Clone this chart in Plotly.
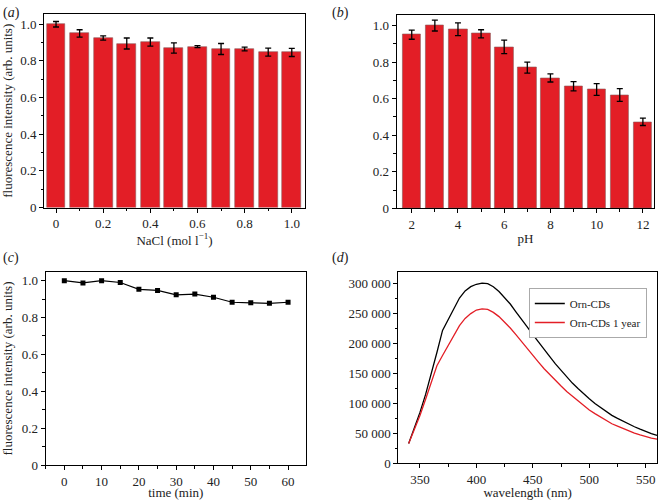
import plotly.graph_objects as go

# ---------------- data ----------------
nacl_conc = [0, 0.1, 0.2, 0.3, 0.4, 0.5, 0.6, 0.7, 0.8, 0.9, 1.0]
nacl_intensity = [1.0, 0.95, 0.925, 0.895, 0.903, 0.87, 0.878, 0.865, 0.865, 0.848, 0.846]
nacl_error = [0.015, 0.02, 0.012, 0.03, 0.022, 0.028, 0.005, 0.03, 0.01, 0.022, 0.022]

ph_values = [2, 3, 4, 5, 6, 7, 8, 9, 10, 11, 12]
ph_intensity = [0.95, 1.0, 0.98, 0.955, 0.883, 0.77, 0.713, 0.668, 0.65, 0.62, 0.473]
ph_error = [0.025, 0.03, 0.035, 0.022, 0.037, 0.03, 0.022, 0.025, 0.032, 0.035, 0.02]

time_min = [0, 5, 10, 15, 20, 25, 30, 35, 40, 45, 50, 55, 60]
time_intensity = [1.0, 0.988, 1.0, 0.99, 0.953, 0.947, 0.923, 0.927, 0.91, 0.883, 0.88, 0.877, 0.883]

wavelength = [340, 345, 350, 355, 360, 365, 370, 375, 380, 385, 390, 395, 400, 405, 410,
              415, 420, 425, 430, 435, 440, 445, 450, 455, 460, 465, 470, 475, 480, 485,
              490, 495, 500, 505, 510, 515, 520, 525, 530, 535, 540, 545, 550, 555, 560]
orn_cds = [33000, 58000, 85000, 115000, 148000, 185000, 222000, 240000, 260000, 276000,
           288000, 295000, 299000, 301000, 300000, 295000, 287000, 277000, 266000, 253000,
           241000, 228000, 215000, 202000, 190000, 178000, 166000, 155000, 144000, 134000,
           125000, 116000, 108000, 100000, 93000, 86000, 80000, 75000, 70000, 65000,
           61000, 57000, 53000, 49500, 46500]
orn_cds_1year = [33000, 55000, 80000, 107000, 135000, 163000, 180000, 197000, 215000, 230000,
                 242000, 250000, 256000, 258000, 257000, 252000, 245000, 236000, 226000, 215000,
                 203000, 192000, 180000, 169000, 158000, 148000, 138000, 129000, 120000, 112000,
                 104000, 96000, 89000, 83000, 77000, 71000, 66000, 62000, 58000, 54000,
                 50500, 47500, 44500, 42000, 40500]

frac_ticks = [0, 0.2, 0.4, 0.6, 0.8, 1.0]
frac_ticklabels = ["0", "0.2", "0.4", "0.6", "0.8", "1.0"]
ph_ticks = [2, 4, 6, 8, 10, 12]
time_ticks = [0, 10, 20, 30, 40, 50, 60]
wl_ticks = [350, 400, 450, 500, 550]
fl_ticks = [0, 50000, 100000, 150000, 200000, 250000, 300000]
fl_ticklabels = ["0", "50 000", "100 000", "150 000", "200 000", "250 000", "300 000"]

# ---------------- figure ----------------
FONT = "Liberation Serif"
BAR = "#e31e26"

fig = go.Figure()

fig.add_trace(go.Bar(
    x=nacl_conc, y=nacl_intensity, width=0.08,
    marker=dict(color=BAR, line=dict(color="#8a5a5a", width=0.6)),
    error_y=dict(type="data", array=nacl_error, color="black", thickness=1.3, width=3),
    xaxis="x", yaxis="y", showlegend=False))

fig.add_trace(go.Bar(
    x=ph_values, y=ph_intensity, width=0.8,
    marker=dict(color=BAR, line=dict(color="#8a5a5a", width=0.6)),
    error_y=dict(type="data", array=ph_error, color="black", thickness=1.3, width=3),
    xaxis="x2", yaxis="y2", showlegend=False))

fig.add_trace(go.Scatter(
    x=time_min, y=time_intensity, mode="lines+markers",
    line=dict(color="black", width=1.2),
    marker=dict(symbol="square", size=5, color="black"),
    xaxis="x3", yaxis="y3", showlegend=False))

fig.add_trace(go.Scatter(
    x=wavelength, y=orn_cds, mode="lines", name="Orn-CDs",
    line=dict(color="black", width=1.3),
    xaxis="x4", yaxis="y4"))
fig.add_trace(go.Scatter(
    x=wavelength, y=orn_cds_1year, mode="lines", name="Orn-CDs 1 year",
    line=dict(color="#e31e26", width=1.3),
    xaxis="x4", yaxis="y4"))

common = dict(showline=True, linecolor="black", linewidth=1, mirror=True,
              ticks="outside", ticklen=4, tickwidth=1, tickcolor="black",
              showgrid=False, zeroline=False, automargin=False,
              tickfont=dict(family=FONT, size=13, color="#222"),
              title_font=dict(family=FONT, size=13, color="#222"))

minor_common = dict(ticks="outside", ticklen=2.5, tickcolor="black", showgrid=False)

ylab = "fluorescence intensity (arb. units)"

fig.update_layout(
    template="none",
    width=658, height=500,
    margin=dict(l=0, r=0, t=0, b=0),
    paper_bgcolor="white", plot_bgcolor="white",
    font=dict(family=FONT, size=13, color="#222"),
    bargap=0,
    xaxis=dict(domain=[0.0669, 0.4635], anchor="y", range=[-0.051, 1.056],
               tickvals=frac_ticks, ticktext=frac_ticklabels,
               minor=dict(dtick=0.1, tick0=0, **minor_common),
               title=dict(text="NaCl (mol l<sup>−1</sup>)", standoff=2), **common),
    yaxis=dict(domain=[0.585, 0.972], anchor="x", range=[0, 1.056],
               tickvals=frac_ticks, ticktext=frac_ticklabels,
               minor=dict(dtick=0.1, tick0=0, **minor_common),
               title=dict(text=ylab, standoff=6), **common),
    xaxis2=dict(domain=[0.6029, 0.9939], anchor="y2", range=[1.35, 12.48],
                tickvals=ph_ticks,
                minor=dict(dtick=1, tick0=0, **minor_common),
                title=dict(text="pH", standoff=2), **common),
    yaxis2=dict(domain=[0.5834, 0.9694], anchor="x2", range=[0, 1.056],
                tickvals=frac_ticks, ticktext=frac_ticklabels,
                minor=dict(dtick=0.1, tick0=0, **minor_common),
                **common),
    xaxis3=dict(domain=[0.0694, 0.4650], anchor="y3", range=[-5, 64.8],
                tickvals=time_ticks,
                minor=dict(dtick=5, tick0=0, **minor_common),
                title=dict(text="time (min)", standoff=2), **common),
    yaxis3=dict(domain=[0.07, 0.456], anchor="x3", range=[0, 1.047],
                tickvals=frac_ticks, ticktext=frac_ticklabels,
                minor=dict(dtick=0.1, tick0=0, **minor_common),
                title=dict(text=ylab, standoff=6), **common),
    xaxis4=dict(domain=[0.6053, 0.9985], anchor="y4", range=[330.8, 560],
                tickvals=wl_ticks,
                minor=dict(dtick=25, tick0=0, **minor_common),
                title=dict(text="wavelength (nm)", standoff=2), **common),
    yaxis4=dict(domain=[0.0734, 0.456], anchor="x4", range=[0, 319500],
                tickvals=fl_ticks, ticktext=fl_ticklabels,
                minor=dict(dtick=25000, tick0=0, **minor_common),
                **common),
    legend=dict(x=0.983, y=0.424, xanchor="right", yanchor="top",
                bgcolor="white", bordercolor="#aaa", borderwidth=1,
                font=dict(family=FONT, size=11, color="#222"),
                tracegroupgap=0, itemwidth=30),
)

panel_labels = [("(<i>a</i>)", 0.002, 0.995), ("(<i>b</i>)", 0.502, 0.995),
                ("(<i>c</i>)", 0.002, 0.505), ("(<i>d</i>)", 0.502, 0.505)]
for txt, px, py in panel_labels:
    fig.add_annotation(text=txt, x=px, y=py, xref="paper", yref="paper",
                       xanchor="left", yanchor="top", showarrow=False,
                       font=dict(family=FONT, size=14, color="#222"))

fig.write_html("out.html",
               config={"displayModeBar": False},
               post_script="document.body.style.margin='0';document.body.style.padding='0';"
                           "document.body.style.overflow='hidden';")
